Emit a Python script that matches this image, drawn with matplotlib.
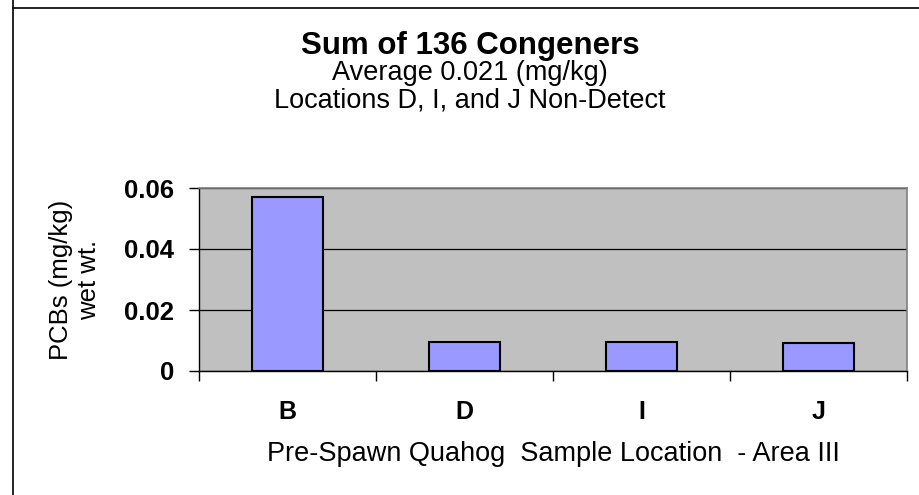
import matplotlib
matplotlib.use("Agg")
import matplotlib.pyplot as plt
from matplotlib.lines import Line2D

# values
locations = ["B", "D", "I", "J"]
pcb_sum = [0.057, 0.0096, 0.0096, 0.0093]
y_ticks = [0, 0.02, 0.04, 0.06]
y_tick_labels = ["0", "0.02", "0.04", "0.06"]

title_lines = ["Sum of 136 Congeners",
               "Average 0.021 (mg/kg)",
               "Locations D, I, and J Non-Detect"]

plt.rcParams['font.family'] = ['Liberation Sans', 'DejaVu Sans']

W, H = 920, 495
fig = plt.figure(figsize=(W / 100, H / 100), dpi=100)
fig.patch.set_facecolor("white")

# plot area in pixels: left 199, right 907, top 188, bottom 371
ax = fig.add_axes([199 / W, 1 - 371 / H, (907 - 199) / W, (371 - 188) / H])
ax.set_facecolor("#C0C0C0")

x = range(len(locations))
ax.bar(x, pcb_sum, width=0.4, color="#9999FF", edgecolor="black",
       linewidth=1.5, zorder=3)

ax.set_xlim(-0.5, len(locations) - 0.5)
ax.set_ylim(0, 0.06)

ax.set_yticks(y_ticks)
ax.set_yticklabels(y_tick_labels, fontsize=18.5, fontweight="bold")
ax.tick_params(axis="y", direction="out", length=7, width=1, pad=11)

ax.set_xticks(list(x))
ax.set_xticklabels(locations, fontsize=18, fontweight="bold")
ax.tick_params(axis="x", which="major", length=0, pad=21)
ax.set_xticks([i - 0.5 for i in range(len(locations) + 1)], minor=True)
ax.tick_params(axis="x", which="minor", direction="out", length=7, width=1)

ax.set_axisbelow(True)
ax.yaxis.grid(True, color="black", linewidth=0.9)

for side in ["top", "right"]:
    ax.spines[side].set_color("#808080")
    ax.spines[side].set_linewidth(1.2)
for side in ["left", "bottom"]:
    ax.spines[side].set_color("black")
    ax.spines[side].set_linewidth(1.0)

ax.set_ylabel("PCBs (mg/kg)\nwet wt.", fontsize=18.5)
ax.yaxis.set_label_coords(-0.138, 0.5)
ax.set_xlabel("Pre-Spawn Quahog  Sample Location  - Area III", fontsize=19.5,
              va="top")
ax.xaxis.set_label_coords(0.5, -0.385)

# title block
fig.text(0.511, 1 - 54 / H, title_lines[0], ha="center", va="baseline",
         fontsize=22.5, fontweight="bold")
fig.text(0.511, 1 - 80 / H, title_lines[1], ha="center", va="baseline",
         fontsize=19.5)
fig.text(0.511, 1 - 107 / H, title_lines[2], ha="center", va="baseline",
         fontsize=19.5)

# outer frame of the chart object
fig.add_artist(Line2D([13 / W, 13 / W], [0, 1], color="black", linewidth=1.2))
fig.add_artist(Line2D([13 / W, 1], [1 - 8 / H, 1 - 8 / H], color="black",
                      linewidth=1.2))

fig.savefig("out.png", dpi=100)
